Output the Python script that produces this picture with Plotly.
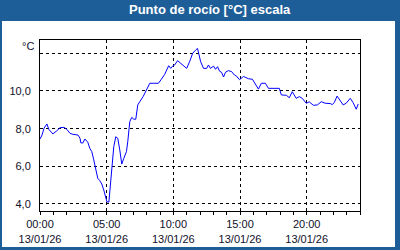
import plotly.graph_objects as go

# Readings: minutes after midnight on 13/01/26 and dew point (°C)
minutes = [0, 9, 18, 31, 40, 58, 76, 90, 108, 121, 135, 148, 171, 180, 184, 193, 202, 215,
           224, 233, 242, 251, 260, 269, 278, 287, 296, 301, 310, 314, 321, 325, 332, 341,
           350, 359, 368, 377, 389, 395, 404, 413, 422, 431, 440, 449, 464, 479, 494, 512,
           533, 546, 561, 579, 588, 597, 606, 619, 633, 646, 660, 673, 687, 700, 709, 714,
           723, 736, 750, 758, 767, 781, 790, 799, 808, 817, 826, 835, 848, 862, 875, 884,
           898, 916, 938, 956, 969, 983, 996, 1014, 1028, 1046, 1064, 1077, 1086, 1109, 1122,
           1135, 1153, 1167, 1180, 1198, 1212, 1230, 1248, 1266, 1283, 1306, 1315, 1324, 1337,
           1351, 1364, 1378, 1396, 1409, 1423, 1432]
dew_point = [7.45, 7.66, 8.02, 8.25, 7.96, 7.72, 7.89, 8.05, 8.07, 7.96, 7.75, 7.70, 7.66, 7.49,
             7.24, 7.24, 7.45, 7.28, 6.96, 6.78, 6.34, 5.89, 5.36, 5.24, 5.06, 4.74, 4.36, 4.12,
             4.10, 4.65, 5.45, 6.07, 7.04, 7.57, 7.49, 6.87, 6.12, 6.42, 6.78, 7.31, 8.37, 8.60,
             8.50, 8.50, 9.26, 9.43, 9.70, 10.05, 10.41, 10.41, 10.41, 10.62, 10.88, 11.34, 11.20,
             11.32, 11.38, 11.61, 11.47, 11.38, 11.20, 11.55, 12.00, 12.17, 12.26, 12.00, 11.55,
             11.20, 11.20, 11.38, 11.20, 11.32, 11.15, 11.29, 11.05, 10.99, 10.74, 11.00, 11.08,
             11.03, 10.85, 10.79, 10.60, 10.77, 10.65, 10.62, 10.40, 10.10, 10.41, 10.41, 10.14,
             10.14, 10.14, 10.14, 9.79, 9.77, 9.64, 9.96, 9.61, 9.70, 9.61, 9.35, 9.42, 9.24,
             9.26, 9.43, 9.35, 9.33, 9.28, 9.38, 9.73, 9.48, 9.26, 9.35, 9.61, 9.38, 9.03, 9.31]

times = ["2026-01-13 %02d:%02d" % (m // 60, m % 60) for m in minutes]

x_tickvals = ["2026-01-13 00:00", "2026-01-13 05:00", "2026-01-13 10:00",
              "2026-01-13 15:00", "2026-01-13 20:00"]
x_ticktext = ["00:00<br>13/01/26", "05:00<br>13/01/26", "10:00<br>13/01/26",
              "15:00<br>13/01/26", "20:00<br>13/01/26"]
y_tickvals = [4, 6, 8, 10, 12]
y_ticktext = ["4,0", "6,0", "8,0", "10,0", ""]

title = "Punto de rocío [°C] escala"
unit = "°C"

BLUE = "#1d5e98"
TXT = "#10102a"
FONT = "Liberation Sans"

fig = go.Figure()
fig.add_trace(go.Scatter(x=times, y=dew_point, mode="lines",
                         line=dict(color="#0000ff", width=1), hoverinfo="skip"))

W, H = 400, 250
ml, mr, mt, mb = 40, 40, 40, 39
pw, ph = W - ml - mr, H - mt - mb


def px2x(x):
    return (x - ml) / pw


def px2y(y):
    return (H - mb - y) / ph


fig.update_layout(
    width=W, height=H,
    margin=dict(l=ml, r=mr, t=mt, b=mb, autoexpand=False),
    paper_bgcolor=BLUE, plot_bgcolor="white",
    showlegend=False,
    font=dict(family=FONT, size=11, color=TXT),
    shapes=[dict(type="rect", xref="paper", yref="paper", layer="below",
                 x0=px2x(2), x1=px2x(395), y0=px2y(247), y1=px2y(21),
                 fillcolor="white", line=dict(width=0))],
    annotations=[
        dict(text="<b>" + title + "</b>", xref="paper", yref="paper",
             x=px2x(210), y=px2y(10), xanchor="center", yanchor="middle",
             showarrow=False, font=dict(family=FONT, size=13, color="white")),
        dict(text=unit, xref="paper", yref="paper",
             x=px2x(36), y=px2y(46), xanchor="right", yanchor="middle",
             showarrow=False, font=dict(family=FONT, size=11, color=TXT)),
    ],
)

fig.update_xaxes(
    automargin=False,
    range=["2026-01-13 00:00", "2026-01-14 00:00"],
    tickmode="array", tickvals=x_tickvals, ticktext=x_ticktext,
    ticks="outside", ticklen=3, tickcolor="black", tickwidth=1,
    minor=dict(dtick=3600000, ticks="outside", ticklen=3, tickcolor="black",
               showgrid=False),
    showgrid=True, gridcolor="black", gridwidth=1, griddash="3px,3px",
    showline=True, linecolor="black", linewidth=1, mirror=True,
    zeroline=False, tickfont=dict(family=FONT, size=11, color=TXT),
)
fig.update_yaxes(
    automargin=False,
    range=[3.628, 12.706],
    tickmode="array", tickvals=y_tickvals, ticktext=y_ticktext,
    ticks="", ticklabelstandoff=6,
    showgrid=True, gridcolor="black", gridwidth=1, griddash="3px,3px",
    showline=True, linecolor="black", linewidth=1, mirror=True,
    zeroline=False, tickfont=dict(family=FONT, size=11, color=TXT),
)

fig.write_html("out.html")
